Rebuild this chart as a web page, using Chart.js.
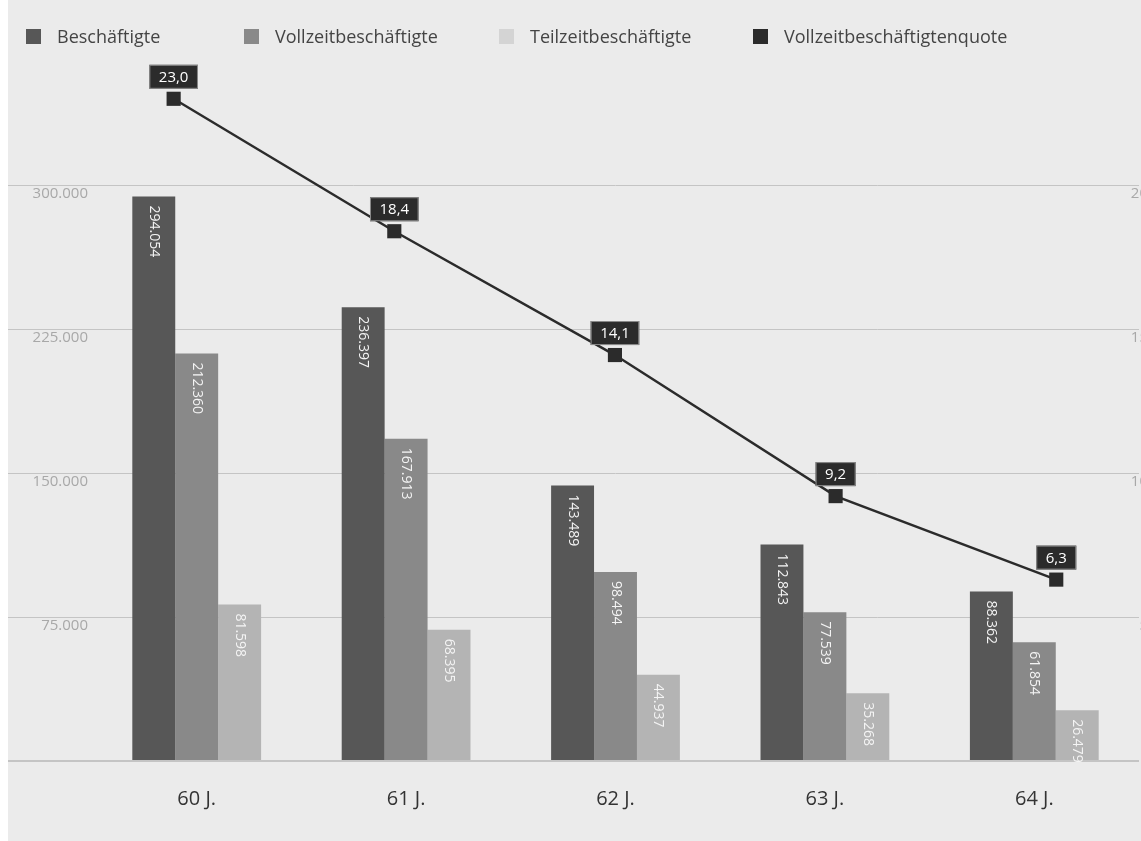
<!DOCTYPE html>
<html>
<head>
<meta charset="utf-8">
<script src="https://cdn.jsdelivr.net/npm/chart.js@4.4.0/dist/chart.umd.min.js"></script>
<style>
  html, body { margin: 0; padding: 0; background: #fff; overflow: hidden; }
  #wrap { position: relative; width: 1141px; height: 841px; overflow: hidden; }
  #chart { display: block; background: linear-gradient(to right, #ffffff 8px, #ebebeb 8px); }
  #legend { position: absolute; left: 26px; top: 24px; display: flex; font: 18px "Open Sans", sans-serif; color: #444; line-height: 24px; }
  .item { display: flex; align-items: center; }
  .box { width: 15px; height: 15px; margin-right: 16px; }
</style>
</head>
<body>
<div id="wrap">
  <!-- a little wider than the window: chart.js keeps ~8px free on the right for the mirrored right axis -->
  <canvas id="chart" width="1149" height="841"></canvas>
  <div id="legend"></div>
</div>
<script>
const categories = ['60 J.', '61 J.', '62 J.', '63 J.', '64 J.'];
const beschaeftigte = [294054, 236397, 143489, 112843, 88362];
const vollzeit = [212360, 167913, 98494, 77539, 61854];
const teilzeit = [81598, 68395, 44937, 35268, 26479];
const quote = [23.0, 18.4, 14.1, 9.2, 6.3];
const leftTicks = [0, 75000, 150000, 225000, 300000];
const rightTicks = [0, 5, 10, 15, 20];

const dark = '#575757';
const mid = '#898989';
const light = '#b4b4b4';
const lineColor = '#2b2b2b';

function fmtThousands(v) {
  return String(v).replace(/\B(?=(\d{3})+(?!\d))/g, '.');
}

// bars only sit on 'x'; the line has its own hidden x axis, which should not split the bar groups
Chart.BarController.prototype._getAxis = function () {
  return ['x'];
};

// legend (html)
const legendItems = [
  { text: 'Beschäftigte', color: dark, width: 218 },
  { text: 'Vollzeitbeschäftigte', color: mid, width: 255 },
  { text: 'Teilzeitbeschäftigte', color: '#d4d4d4', width: 254 },
  { text: 'Vollzeitbeschäftigtenquote', color: lineColor }
];
const legendEl = document.getElementById('legend');
legendItems.forEach(item => {
  const el = document.createElement('div');
  el.className = 'item';
  if (item.width) el.style.width = item.width + 'px';
  el.innerHTML = `<span class="box" style="background:${item.color}"></span><span>${item.text}</span>`;
  legendEl.appendChild(el);
});

// rotated values inside the bars, boxed values above the line points
const valueLabels = {
  id: 'valueLabels',
  afterDatasetsDraw(chart) {
    const ctx = chart.ctx;
    chart.data.datasets.forEach((ds, i) => {
      const meta = chart.getDatasetMeta(i);
      if (meta.hidden) return;
      if (meta.type === 'bar') {
        ctx.save();
        ctx.font = '14px "Open Sans", sans-serif';
        ctx.fillStyle = '#f4f4f4';
        ctx.textAlign = 'left';
        ctx.textBaseline = 'middle';
        meta.data.forEach((bar, j) => {
          ctx.save();
          ctx.translate(bar.x, bar.y + 9);
          ctx.rotate(Math.PI / 2);
          ctx.fillText(fmtThousands(ds.data[j]), 0, 0);
          ctx.restore();
        });
        ctx.restore();
      } else if (meta.type === 'line') {
        ctx.save();
        ctx.font = '15px "Open Sans", sans-serif';
        ctx.textAlign = 'center';
        ctx.textBaseline = 'middle';
        meta.data.forEach((pt, j) => {
          const txt = quote[j].toFixed(1).replace('.', ',');
          const w = ctx.measureText(txt).width + 19;
          const h = 24;
          const bx = pt.x - w / 2;
          const by = pt.y - 10 - h;
          ctx.fillStyle = lineColor;
          ctx.fillRect(bx, by, w, h);
          ctx.strokeStyle = '#8c8c8c';
          ctx.lineWidth = 1;
          ctx.strokeRect(bx + 0.5, by + 0.5, w - 1, h - 1);
          ctx.fillStyle = '#ffffff';
          ctx.fillText(txt, pt.x, by + h / 2 + 1);
        });
        ctx.restore();
      }
    });
  }
};

const noSidePadding = scale => { scale.paddingLeft = 0; scale.paddingRight = 0; };

new Chart(document.getElementById('chart'), {
  type: 'bar',
  data: {
    labels: categories,
    datasets: [
      { label: 'Beschäftigte', data: beschaeftigte, backgroundColor: dark, xAxisID: 'x', yAxisID: 'y', order: 1 },
      { label: 'Vollzeitbeschäftigte', data: vollzeit, backgroundColor: mid, xAxisID: 'x', yAxisID: 'y', order: 1 },
      { label: 'Teilzeitbeschäftigte', data: teilzeit, backgroundColor: light, xAxisID: 'x', yAxisID: 'y', order: 1 },
      {
        type: 'line',
        label: 'Vollzeitbeschäftigtenquote',
        data: quote.map((v, i) => ({ x: i, y: v })),
        xAxisID: 'xLine',
        yAxisID: 'yRight',
        borderColor: lineColor,
        borderWidth: 2.5,
        pointStyle: 'rect',
        pointRadius: 10,
        pointBackgroundColor: lineColor,
        pointBorderWidth: 0,
        tension: 0,
        clip: false,
        order: 0
      }
    ]
  },
  options: {
    responsive: false,
    animation: false,
    devicePixelRatio: 1,
    layout: { padding: { left: 8, right: 2, top: 70, bottom: 0 } },
    datasets: {
      bar: { barPercentage: 1.0, categoryPercentage: 0.615, borderWidth: 0 }
    },
    plugins: {
      legend: { display: false },
      tooltip: { enabled: false }
    },
    scales: {
      x: {
        type: 'category',
        grid: { display: false },
        border: { display: false },
        ticks: { color: '#333', font: { family: 'Open Sans', size: 20 }, padding: 18 },
        afterFit(scale) { scale.height = 80; noSidePadding(scale); }
      },
      xLine: {
        type: 'linear',
        display: false,
        offset: false,
        grid: { offset: false },
        ticks: { display: false },
        min: -0.37,
        max: 4.375,
        afterFit: noSidePadding
      },
      y: {
        position: 'left',
        min: 0,
        max: 360000,
        afterBuildTicks(axis) { axis.ticks = leftTicks.map(value => ({ value })); },
        border: { display: false },
        grid: {
          color: '#c4c4c4',
          tickColor: '#c4c4c4',
          lineWidth: ctx => ctx.tick && ctx.tick.value === 0 ? 2 : 1,
          drawTicks: true,
          tickLength: 84
        },
        ticks: {
          color: '#a8a8a8',
          font: { family: 'Open Sans', size: 15 },
          padding: -80,
          labelOffset: 9,
          callback: v => v === 0 ? '' : fmtThousands(v)
        },
        afterFit(scale) { scale.width = 84; }
      },
      yRight: {
        position: 'right',
        min: 0,
        max: 24,
        afterBuildTicks(axis) { axis.ticks = rightTicks.map(value => ({ value })); },
        border: { display: false },
        grid: { display: false, drawTicks: false },
        ticks: {
          mirror: true,
          padding: 9,
          color: '#a8a8a8',
          font: { family: 'Open Sans', size: 15 },
          labelOffset: 9,
          callback: v => v === 0 ? '' : String(v)
        },
        afterFit(scale) { scale.width = 0; }
      }
    }
  },
  plugins: [valueLabels]
});
</script>
</body>
</html>
